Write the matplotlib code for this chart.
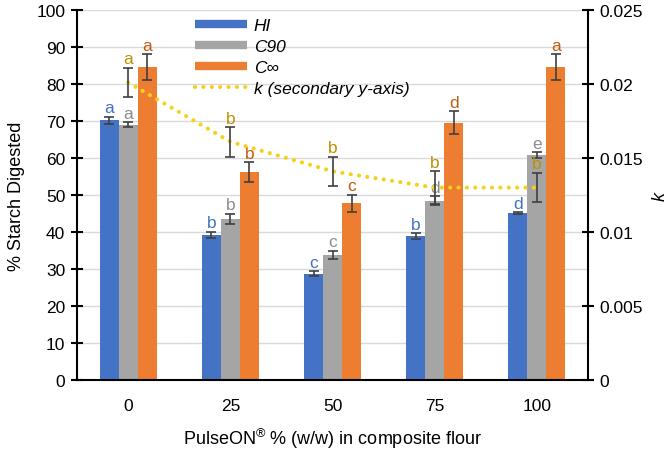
import numpy as np
import matplotlib
matplotlib.use("Agg")
import matplotlib.pyplot as plt
from matplotlib.lines import Line2D

plt.rcParams['font.family'] = ['Liberation Sans', 'DejaVu Sans']
plt.rcParams['mathtext.default'] = 'regular'

# ---------------------------------------------------------------------------
# data
# ---------------------------------------------------------------------------
groups = ['0', '25', '50', '75', '100']

hi = [70.2, 39.2, 28.7, 38.9, 45.1]
hi_err = [1.0, 0.9, 0.7, 0.8, 0.3]
c90 = [69.0, 43.6, 33.9, 48.4, 60.8]
c90_err = [0.6, 1.3, 1.1, 1.2, 0.8]
cinf = [84.6, 56.2, 47.8, 69.5, 84.6]
cinf_err = [3.4, 2.6, 2.3, 3.1, 3.4]
k_vals = [0.0201, 0.0161, 0.0141, 0.0130, 0.0130]
k_err = [0.0010, 0.0010, 0.0010, 0.0011, 0.0010]

hi_letters = ['a', 'b', 'c', 'b', 'd']
c90_letters = ['a', 'b', 'c', 'd', 'e']
cinf_letters = ['a', 'b', 'c', 'd', 'a']
k_letters = ['a', 'b', 'b', 'b', 'b']

# colours
BLUE, GRAY, ORANGE, YELLOW = '#4472C4', '#A5A5A5', '#ED7D31', '#F5D11C'
BLUE_T, GRAY_T, ORANGE_T, GOLD_T = '#4472C4', '#8C8C8C', '#C55A11', '#BF9000'
ERR = '#404040'

# ---------------------------------------------------------------------------
# figure
# ---------------------------------------------------------------------------
fig = plt.figure(figsize=(6.7, 4.52), dpi=100)
ax = fig.add_axes([0.115, 0.157, 0.7626, 0.8187])
ax2 = ax.twinx()

x = np.arange(len(groups))
w = 0.186
err_kw = dict(ecolor=ERR, elinewidth=1.2, capsize=3.6, capthick=1.2)

series = [(hi, hi_err, hi_letters, BLUE, BLUE_T, -w),
          (c90, c90_err, c90_letters, GRAY, GRAY_T, 0.0),
          (cinf, cinf_err, cinf_letters, ORANGE, ORANGE_T, w)]
for vals, errs, letters, col, tcol, off in series:
    ax.bar(x + off, vals, w, color=col, yerr=errs, error_kw=err_kw, zorder=2)
    for xi, v, e, lab in zip(x + off, vals, errs, letters):
        ax.annotate(lab, (xi, v + e), xytext=(0, 1), textcoords='offset points',
                    ha='center', va='bottom', fontsize=12.5, color=tcol, zorder=5)

# k on the secondary axis
ax2.plot(x, k_vals, color=YELLOW, lw=3.0, linestyle=(0, (0.01, 2.0)),
         dash_capstyle='round', zorder=3)
ax2.errorbar(x, k_vals, yerr=k_err, fmt='none', zorder=4, **err_kw)
for xi, v, e, lab in zip(x, k_vals, k_err, k_letters):
    ax2.annotate(lab, (xi, v + e), xytext=(0, 1), textcoords='offset points',
                 ha='center', va='bottom', fontsize=12.5, color=GOLD_T, zorder=5)

# axes styling
ax.set_xlim(-0.5, len(groups) - 0.5)
ax.set_ylim(0, 100)
ax.set_yticks(np.arange(0, 101, 10))
ax2.set_ylim(0, 0.025)
ax2.set_yticks([0, 0.005, 0.01, 0.015, 0.02, 0.025])
ax2.set_yticklabels(['0', '0.005', '0.01', '0.015', '0.02', '0.025'])
ax.set_xticks(x)
ax.set_xticklabels(groups)
ax.tick_params(axis='x', length=0, pad=13, labelsize=12.5)
ax.tick_params(axis='y', direction='inout', length=9, width=1.5, labelsize=12.5, pad=4)
ax2.tick_params(axis='y', direction='inout', length=9, width=1.5, labelsize=12.5, pad=4)
ax.yaxis.grid(True, color='#D9D9D9', lw=1.0, zorder=0)
ax.set_axisbelow(True)
for a in (ax, ax2):
    a.spines['top'].set_visible(False)
    for s in ('left', 'right', 'bottom'):
        a.spines[s].set_linewidth(1.5)
ax.spines['right'].set_visible(False)
ax2.spines['left'].set_visible(False)
ax2.spines['bottom'].set_visible(False)

ax.set_ylabel('% Starch Digested', fontsize=13, labelpad=8)
ax2.set_ylabel('k', fontsize=13, style='italic', labelpad=6)
ax.set_xlabel('PulseON$^{®}$ % (w/w) in composite flour', fontsize=13, labelpad=9)

handles = [Line2D([], [], color=BLUE, lw=6, solid_capstyle='butt'),
           Line2D([], [], color=GRAY, lw=6, solid_capstyle='butt'),
           Line2D([], [], color=ORANGE, lw=6, solid_capstyle='butt'),
           Line2D([], [], color=YELLOW, lw=3.0, linestyle=(0, (0.01, 2.0)),
                  dash_capstyle='round')]
labels = ['HI', 'C90', 'C∞', 'k (secondary y-axis)']
leg = ax2.legend(handles, labels, loc='upper left', bbox_to_anchor=(0.2, 1.022),
                 frameon=False, handlelength=3.0, labelspacing=0.35,
                 handletextpad=0.4, prop={'style': 'italic', 'size': 12.5})

fig.savefig('out.png', dpi=100)
